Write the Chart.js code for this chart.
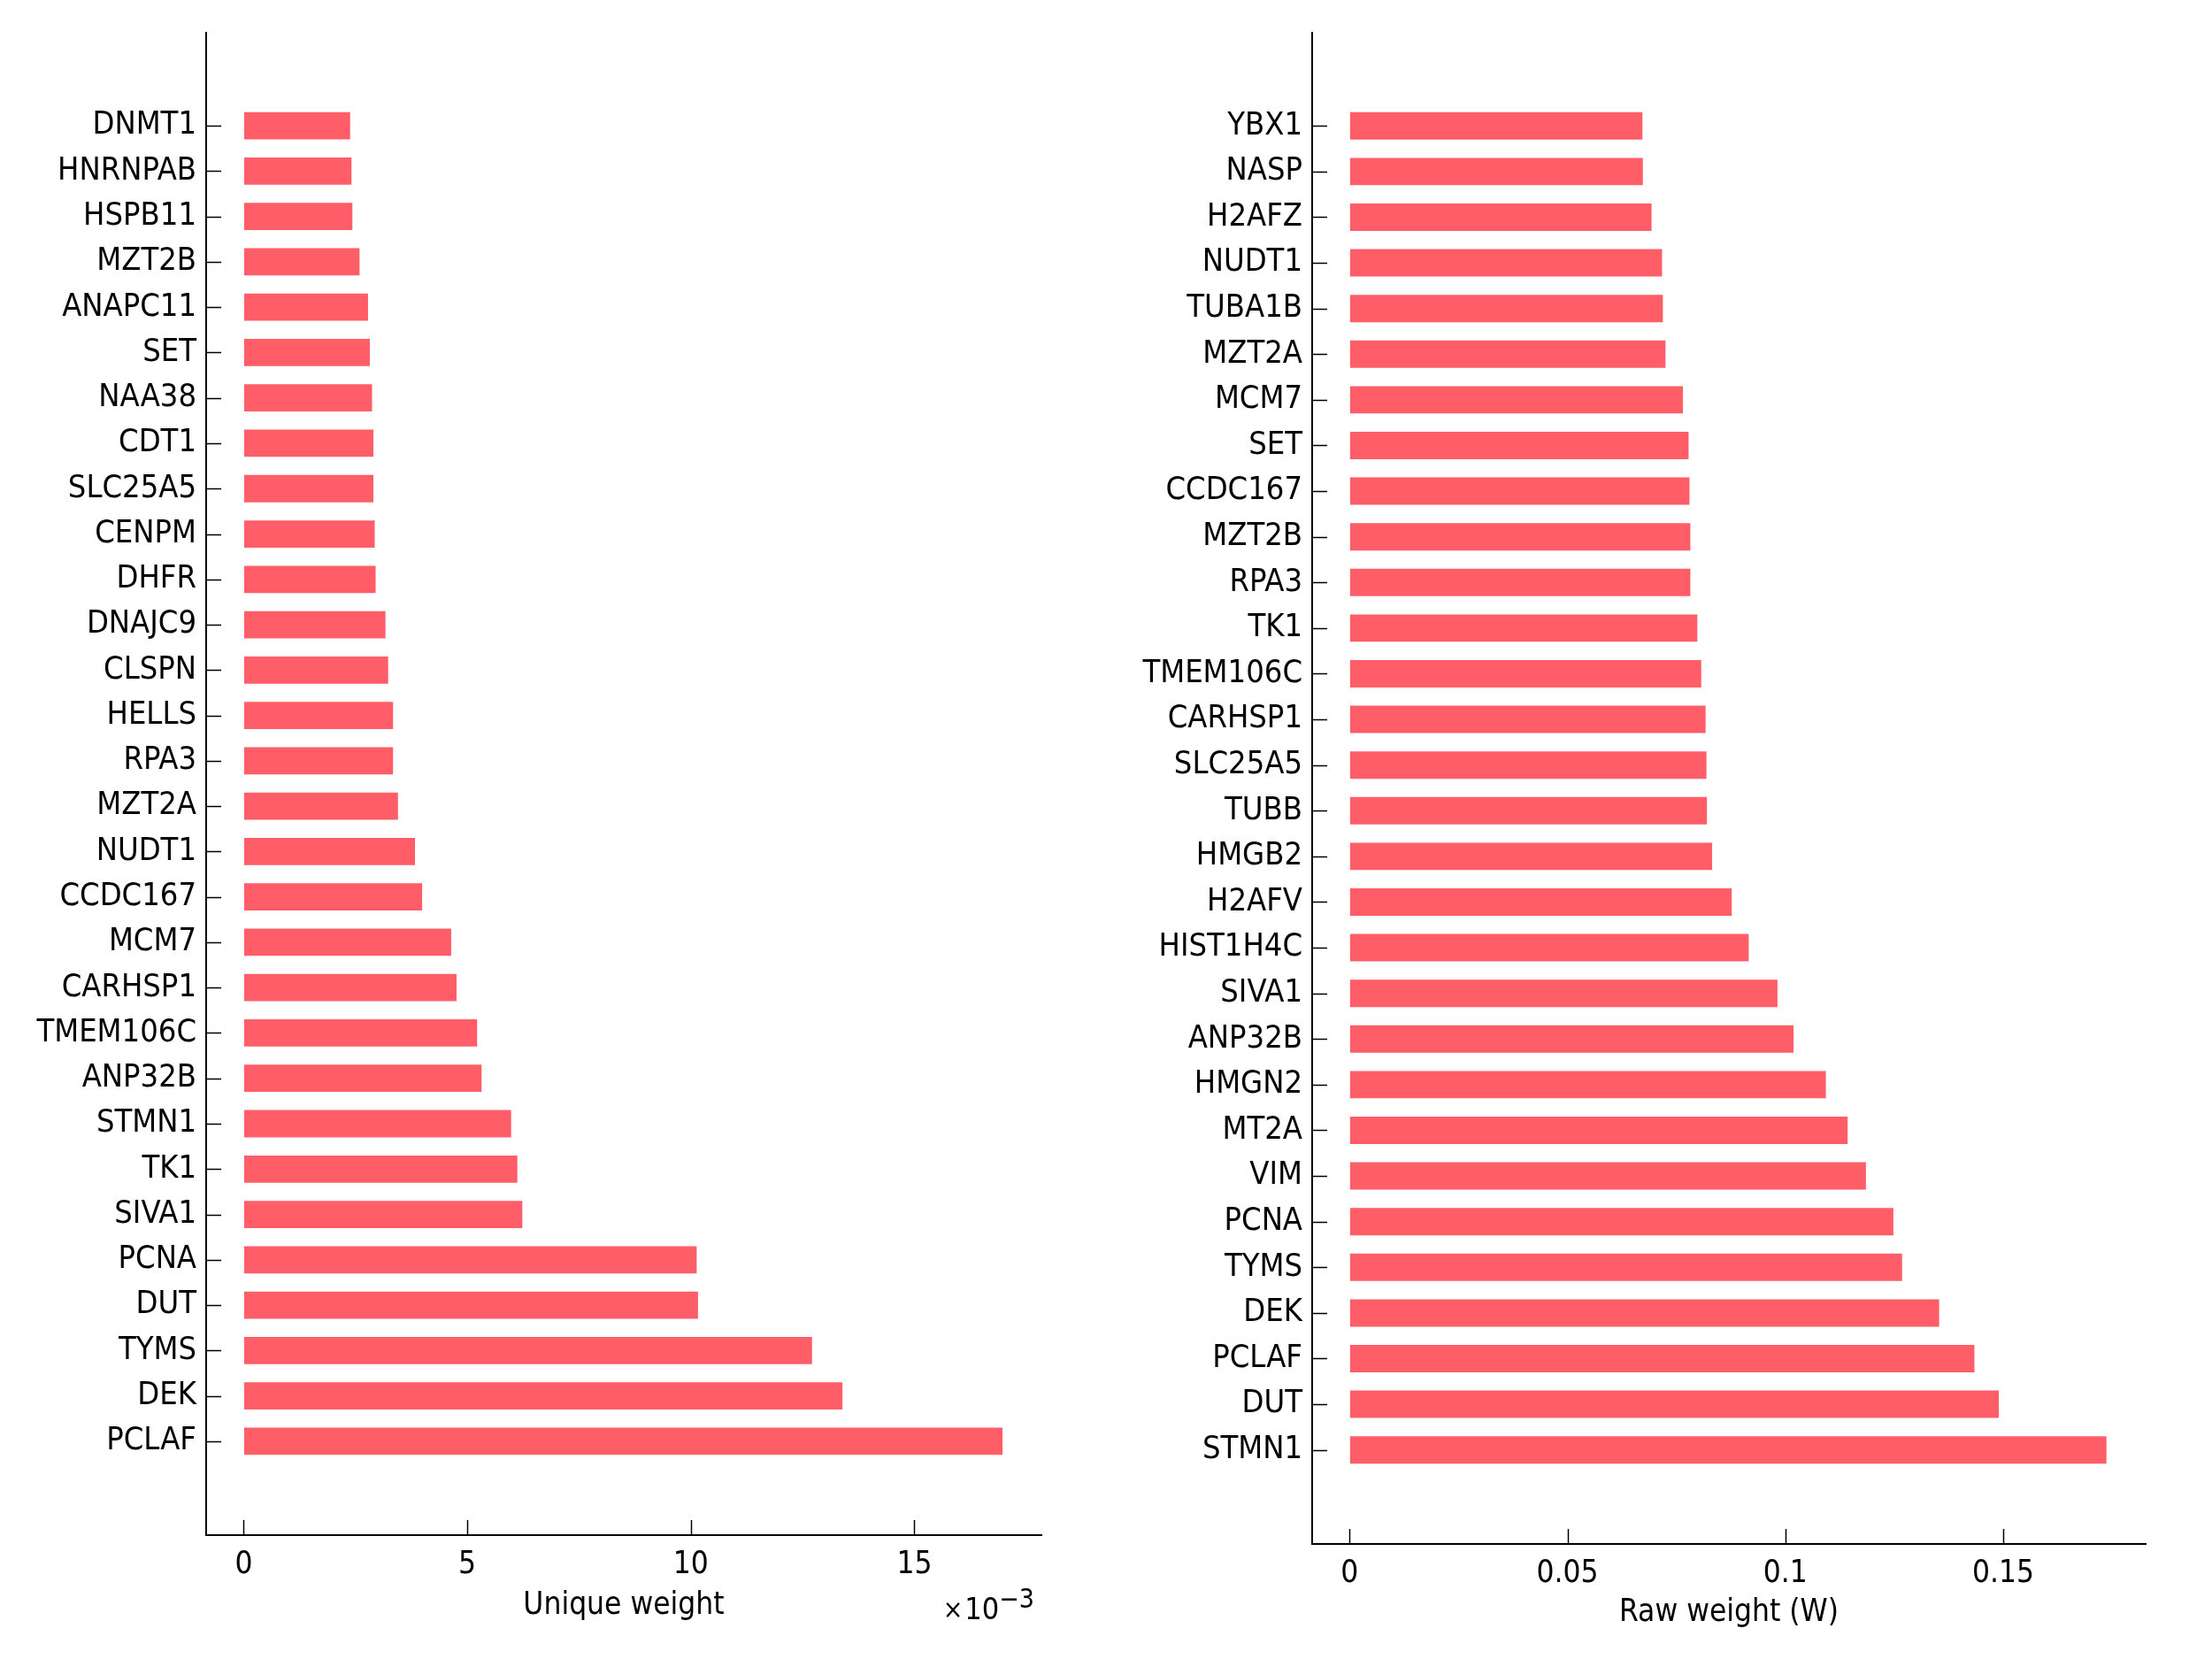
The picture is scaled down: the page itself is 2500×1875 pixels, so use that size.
<!DOCTYPE html>
<html>
<head>
<meta charset="utf-8">
<script src="https://cdn.jsdelivr.net/npm/chart.js@4"></script>
<style>
  html, body { margin: 0; padding: 0; background: #ffffff; }
  #wrap { position: relative; width: 2500px; height: 1875px; background: #ffffff; }
  canvas { position: absolute; top: 0; }
  #left { left: 0; }
  #right { left: 1250px; }
</style>
</head>
<body>
<div id="wrap">
  <canvas id="left" width="1250" height="1875"></canvas>
  <canvas id="right" width="1250" height="1875"></canvas>
</div>
<script>
// ---- Data ----
const uniqueGenes = ['DNMT1','HNRNPAB','HSPB11','MZT2B','ANAPC11','SET','NAA38','CDT1','SLC25A5','CENPM',
  'DHFR','DNAJC9','CLSPN','HELLS','RPA3','MZT2A','NUDT1','CCDC167','MCM7','CARHSP1',
  'TMEM106C','ANP32B','STMN1','TK1','SIVA1','PCNA','DUT','TYMS','DEK','PCLAF'];
const uniqueWeights = [0.00238,0.00241,0.00243,0.00259,0.00278,0.00282,0.00287,0.00290,0.00290,0.00293,
  0.00295,0.00317,0.00323,0.00334,0.00334,0.00345,0.00383,0.00399,0.00464,0.00476,
  0.00522,0.00532,0.00598,0.00612,0.00623,0.01013,0.01016,0.01271,0.01339,0.01697];

const rawGenes = ['YBX1','NASP','H2AFZ','NUDT1','TUBA1B','MZT2A','MCM7','SET','CCDC167','MZT2B',
  'RPA3','TK1','TMEM106C','CARHSP1','SLC25A5','TUBB','HMGB2','H2AFV','HIST1H4C','SIVA1',
  'ANP32B','HMGN2','MT2A','VIM','PCNA','TYMS','DEK','PCLAF','DUT','STMN1'];
const rawWeights = [0.0672,0.0673,0.0693,0.0717,0.0719,0.0725,0.0765,0.0778,0.0780,0.0782,
  0.0782,0.0798,0.0807,0.0817,0.0819,0.0820,0.0832,0.0877,0.0916,0.0982,
  0.1019,0.1093,0.1143,0.1185,0.1248,0.1268,0.1353,0.1434,0.1490,0.1737];

const uniqueTicks = [0, 0.005, 0.010, 0.015];
const uniqueTickLabels = ['0', '5', '10', '15'];
const rawTicks = [0, 0.05, 0.10, 0.15];
const rawTickLabels = ['0', '0.05', '0.1', '0.15'];

const uniqueTitle = 'Unique weight';
const rawTitle = 'Raw weight (W)';

// ---- Styling ----
const FONT = "'DejaVu Sans Condensed', 'DejaVu Sans', sans-serif";
const BAR_COLOR = '#FF5E69';

const inwardTicks = {
  id: 'inwardTicks',
  afterDraw(chart) {
    const { ctx, chartArea, scales: { x, y } } = chart;
    ctx.save();
    ctx.strokeStyle = '#000';
    ctx.lineWidth = 1.5;
    x.ticks.forEach(t => {
      const px = Math.round(x.getPixelForValue(t.value)) + 0.5;
      ctx.beginPath();
      ctx.moveTo(px, chartArea.bottom);
      ctx.lineTo(px, chartArea.bottom - 17);
      ctx.stroke();
    });
    y.ticks.forEach(t => {
      const py = Math.round(y.getPixelForValue(t.value)) + 0.5;
      ctx.beginPath();
      ctx.moveTo(chartArea.left, py);
      ctx.lineTo(chartArea.left + 17, py);
      ctx.stroke();
    });
    ctx.restore();
  }
};

const exponentLabel = {
  id: 'exponentLabel',
  afterDraw(chart, args, opts) {
    if (!opts || !opts.show) return;
    const { ctx, chartArea } = chart;
    ctx.save();
    ctx.fillStyle = '#000';
    ctx.textBaseline = 'alphabetic';
    ctx.textAlign = 'left';
    const right = chartArea.right - 8;
    const baseY = chartArea.bottom + 95;
    ctx.font = "30px " + FONT;
    const supW = ctx.measureText('\u22123').width;
    ctx.font = "34px " + FONT;
    const tenW = ctx.measureText('10').width;
    ctx.font = "30px " + FONT;
    const timesW = ctx.measureText('\u00D7').width;
    let x0 = right - supW - tenW - timesW - 2;
    ctx.font = "30px " + FONT;
    ctx.fillText('\u00D7', x0, baseY - 1);
    x0 += timesW + 2;
    ctx.font = "34px " + FONT;
    ctx.fillText('10', x0, baseY);
    x0 += tenW;
    ctx.font = "30px " + FONT;
    ctx.fillText('\u22123', x0, baseY - 13);
    ctx.restore();
  }
};

function makeChart(canvasId, genes, values, ticks, tickLabels, xMin, xMax, title, yMin, yMax, xScaleHeight, titlePad, rightPad, showExp) {
  const ctx = document.getElementById(canvasId).getContext('2d');
  return new Chart(ctx, {
    type: 'bar',
    data: {
      datasets: [{
        data: values.map((v, i) => ({ x: v, y: i })),
        backgroundColor: BAR_COLOR,
        borderWidth: 0,
        barPercentage: 0.6,
        categoryPercentage: 1.0
      }]
    },
    options: {
      indexAxis: 'y',
      responsive: false,
      animation: false,
      devicePixelRatio: 1,
      layout: { padding: { left: 0, right: rightPad, top: 37, bottom: 0 } },
      plugins: {
        legend: { display: false },
        tooltip: { enabled: false },
        exponentLabel: { show: showExp }
      },
      scales: {
        y: {
          type: 'linear',
          reverse: true,
          offset: false,
          min: yMin,
          max: yMax,
          afterBuildTicks: s => { s.ticks = genes.map((g, i) => ({ value: i })); },
          afterFit: s => { s.width = 233; },
          ticks: {
            autoSkip: false,
            padding: 11,
            color: '#000',
            font: { family: FONT, size: 36 },
            callback: v => genes[v]
          },
          grid: { display: true, drawOnChartArea: false, drawTicks: false, offset: false },
          border: { display: true, color: '#000', width: 2 }
        },
        x: {
          type: 'linear',
          offset: false,
          min: xMin,
          max: xMax,
          afterBuildTicks: s => { s.ticks = ticks.map(v => ({ value: v })); },
          afterFit: s => { s.height = xScaleHeight; },
          ticks: {
            autoSkip: false,
            maxRotation: 0,
            padding: 13,
            color: '#000',
            font: { family: FONT, size: 35 },
            callback: (v) => { const k = ticks.findIndex(t => Math.abs(t - v) < 1e-9); return k >= 0 ? tickLabels[k] : ''; }
          },
          grid: { display: true, drawOnChartArea: false, drawTicks: false },
          border: { display: true, color: '#000', width: 2 },
          title: {
            display: true,
            text: title,
            color: '#000',
            font: { family: FONT, size: 35 },
            padding: { top: 0, bottom: titlePad }
          }
        }
      }
    },
    plugins: [inwardTicks, exponentLabel]
  });
}

makeChart('left', uniqueGenes, uniqueWeights, uniqueTicks, uniqueTickLabels, -0.00084, 0.01784, uniqueTitle, -2.05, 31.07, 140, 39, 73, true);
makeChart('right', rawGenes, rawWeights, rawTicks, rawTickLabels, -0.0086, 0.1827, rawTitle, -2.04, 31.06, 130, 31, 75, false);
</script>
</body>
</html>
